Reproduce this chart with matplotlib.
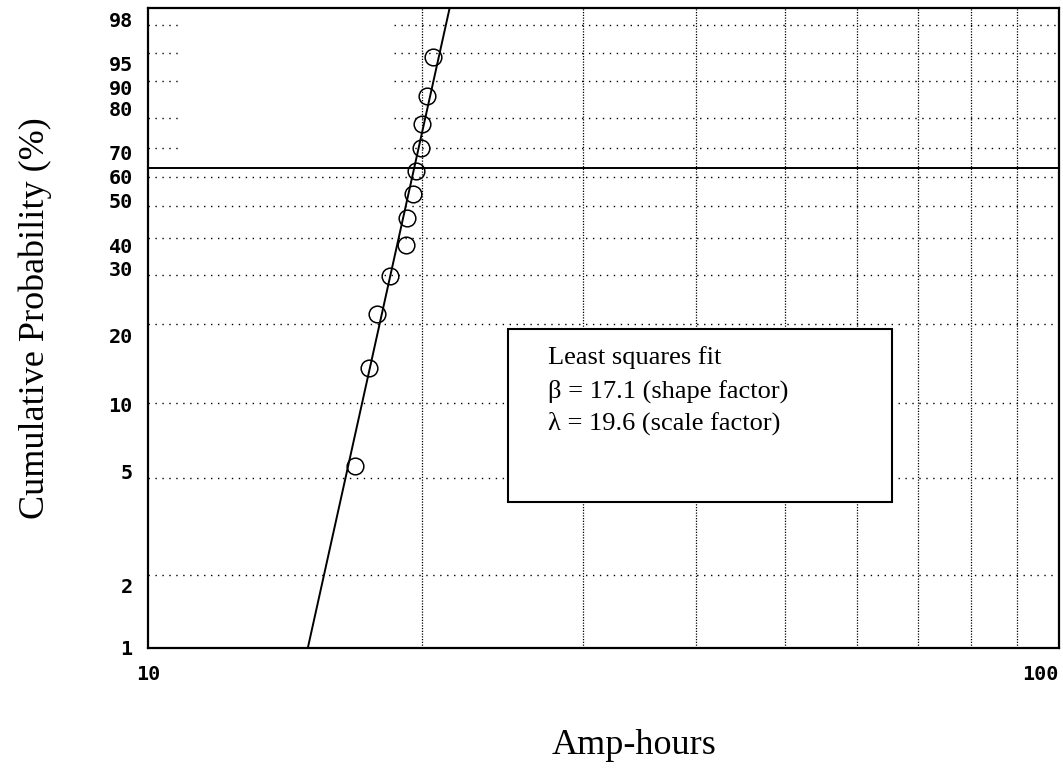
import numpy as np
import matplotlib.pyplot as plt
from matplotlib.ticker import FixedLocator, FixedFormatter, NullLocator
from matplotlib.patches import Rectangle

# failure data (amp-hours, sorted) and the plotted cumulative probability (%)
amp_hours = [16.86, 17.47, 17.82, 18.44, 19.20, 19.26, 19.55, 19.69, 19.93, 20.00, 20.26, 20.57]
cum_prob = [5.6, 13.7, 21.8, 29.8, 37.9, 46.0, 54.0, 62.1, 70.2, 78.2, 86.3, 94.4]

# least squares weibull fit
beta = 17.1
lam = 19.6

# grid / tick values
y_grid = [2, 5, 10, 20, 30, 40, 50, 60, 70, 80, 90, 95, 98]
x_grid = [20, 30, 40, 50, 60, 70, 80, 90]
y_labels = ['1', '2', '5', '10', '20', '30', '40', '50', '60', '70', '80', '90', '95', '98']
x_ticks = [10, 100]
x_labels = ['10', '100']

# where the old plotting program put the y labels (not on the grid lines)
y_label_at = [1.0, 1.82, 5.32, 9.88, 18.2, 31.8, 37.9, 51.7, 60.0, 68.4, 83.0, 88.5, 93.4, 98.4]


def fwd(p):
    p = np.clip(np.asarray(p, dtype=float), 1e-6, 100 - 1e-6)
    return np.log(-np.log(1 - p / 100.0))


def inv(u):
    return 100.0 * (1 - np.exp(-np.exp(u)))


serif = ['Liberation Serif', 'DejaVu Serif']
mono = {'family': 'DejaVu Sans Mono', 'weight': 'bold', 'size': 14.5}

fig = plt.figure(figsize=(10.63, 7.74), dpi=100)
ax = fig.add_axes([148 / 1063, 126 / 774, 911 / 1063, 639.7 / 774])

ax.set_xscale('log')
ax.set_yscale('function', functions=(fwd, inv))
ax.set_xlim(10, 100)
ax.set_ylim(1, 99)

# grid: horizontal dotted, upper rows have a blank stretch like the original
dots = (0, (1, 4))
for p in y_grid:
    if p > 63.2:
        ax.hlines(p, 10, 10.9, colors='black', lw=1.0, linestyles=dots, zorder=1)
        ax.hlines(p, 18.6, 100, colors='black', lw=1.0, linestyles=dots, zorder=1)
    else:
        ax.hlines(p, 10, 100, colors='black', lw=1.0, linestyles=dots, zorder=1)
ax.vlines(x_grid, 1, 99, colors='black', lw=0.9, linestyles=(0, (1, 1.2)), zorder=1)

# characteristic life line
ax.axhline(63.2, color='black', lw=1.4, zorder=2)

# fitted line
p_ends = np.array([1.0, 99.0])
x_fit = lam * np.exp(fwd(p_ends) / beta)
ax.plot(x_fit, p_ends, color='black', lw=1.4, zorder=3)

ax.plot(amp_hours, cum_prob, 'o', ms=12, mfc='none', mec='black', mew=1.1, zorder=4)

ax.yaxis.set_major_locator(FixedLocator(y_label_at))
ax.yaxis.set_major_formatter(FixedFormatter(y_labels))
ax.yaxis.set_minor_locator(NullLocator())
ax.xaxis.set_major_locator(FixedLocator(x_ticks))
ax.xaxis.set_major_formatter(FixedFormatter(x_labels))
ax.xaxis.set_minor_locator(NullLocator())
ax.tick_params(length=0)
ax.tick_params(axis='y', pad=11)
ax.tick_params(axis='x', pad=12)
for t in ax.get_yticklabels() + ax.get_xticklabels():
    t.set_fontproperties(mono)
ax.get_xticklabels()[-1].set_ha('right')

for s in ax.spines.values():
    s.set_linewidth(1.6)
    s.set_color('black')

# fit results box
ax.add_patch(Rectangle((0.395, 0.228), 0.422, 0.271, transform=ax.transAxes,
                       facecolor='white', edgecolor='black', lw=1.5, zorder=5))
box_lines = ['Least squares fit',
             '\u03b2 = %.1f (shape factor)' % beta,
             '\u03bb = %.1f (scale factor)' % lam]
for txt, yy in zip(box_lines, [0.444, 0.391, 0.341]):
    ax.text(0.439, yy, txt, transform=ax.transAxes, family=serif, fontsize=19,
            va='baseline', ha='left', zorder=6)

fig.text(35 / 1063, 1 - 318 / 774, 'Cumulative Probability (%)', rotation=90,
         family=serif, fontsize=26, ha='center', va='center')
fig.text(634 / 1063, 1 - 745 / 774, 'Amp-hours', family=serif, fontsize=26,
         ha='center', va='center')

fig.savefig('out.png', dpi=100)
